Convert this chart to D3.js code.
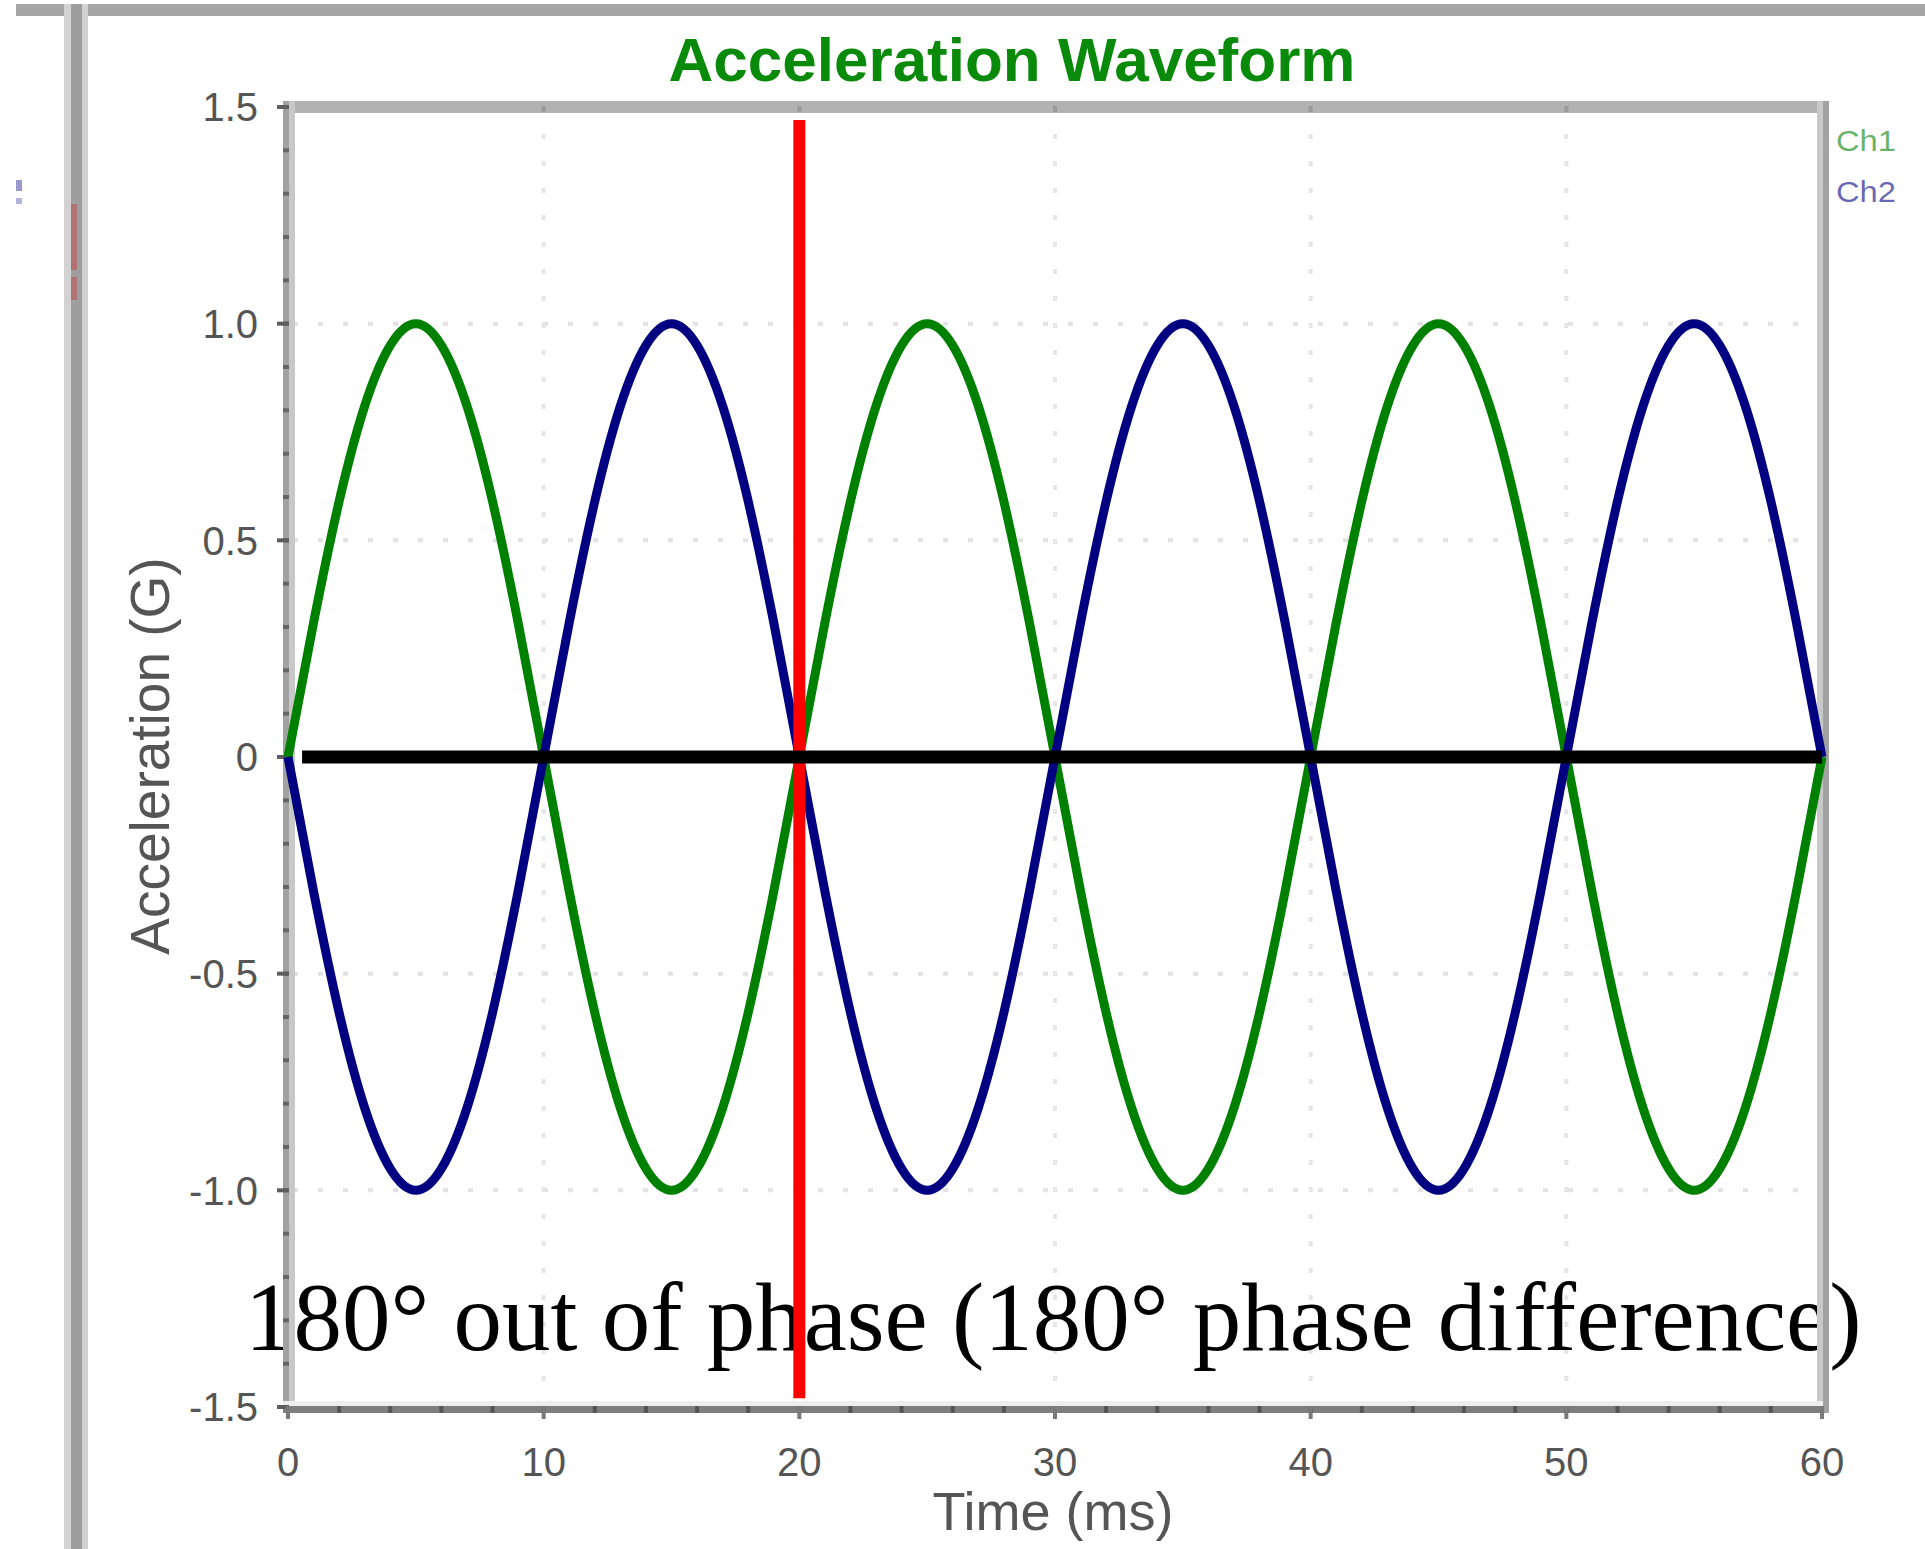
<!DOCTYPE html>
<html>
<head>
<meta charset="utf-8">
<script src="https://cdn.jsdelivr.net/npm/d3@7"></script>
<style>
  html, body { margin: 0; padding: 0; background: #fff; }
  svg { display: block; }
</style>
</head>
<body>
<svg id="chart" width="1925" height="1549"></svg>
<script>
// ---------- data ----------
const times = d3.range(0, 61, 1); // ms sample positions 0..60
const ch1 = [
  0, 0.31, 0.59, 0.81, 0.95, 1.00, 0.95, 0.81, 0.59, 0.31,
  0, -0.31, -0.59, -0.81, -0.95, -1.00, -0.95, -0.81, -0.59, -0.31,
  0, 0.31, 0.59, 0.81, 0.95, 1.00, 0.95, 0.81, 0.59, 0.31,
  0, -0.31, -0.59, -0.81, -0.95, -1.00, -0.95, -0.81, -0.59, -0.31,
  0, 0.31, 0.59, 0.81, 0.95, 1.00, 0.95, 0.81, 0.59, 0.31,
  0, -0.31, -0.59, -0.81, -0.95, -1.00, -0.95, -0.81, -0.59, -0.31,
  0
];
const ch2 = [
  0, -0.31, -0.59, -0.81, -0.95, -1.00, -0.95, -0.81, -0.59, -0.31,
  0, 0.31, 0.59, 0.81, 0.95, 1.00, 0.95, 0.81, 0.59, 0.31,
  0, -0.31, -0.59, -0.81, -0.95, -1.00, -0.95, -0.81, -0.59, -0.31,
  0, 0.31, 0.59, 0.81, 0.95, 1.00, 0.95, 0.81, 0.59, 0.31,
  0, -0.31, -0.59, -0.81, -0.95, -1.00, -0.95, -0.81, -0.59, -0.31,
  0, 0.31, 0.59, 0.81, 0.95, 1.00, 0.95, 0.81, 0.59, 0.31,
  0
];
const seriesNames = ["Ch1", "Ch2"];
const xTicks = [0, 10, 20, 30, 40, 50, 60];
const xTickLabels = ["0", "10", "20", "30", "40", "50", "60"];
const yTicks = [1.5, 1.0, 0.5, 0, -0.5, -1.0, -1.5];
const yTickLabels = ["1.5", "1.0", "0.5", "0", "-0.5", "-1.0", "-1.5"];
const refTime = 20;          // red marker line (ms)
const refRange = [1.47, -1.48];
const zeroLineRange = [0.55, 60];
const titleText = "Acceleration Waveform";
const xTitle = "Time (ms)";
const yTitle = "Acceleration (G)";
const noteText = "180° out of phase (180° phase difference)";

// ---------- layout ----------
const svg = d3.select("#chart");
const x = d3.scaleLinear().domain([0, 60]).range([288, 1822]);
const y = d3.scaleLinear().domain([-1.5, 1.5]).range([1407, 107]);
const colors = { Ch1: "#008000", Ch2: "#000080" };

// window chrome (outer frame)
svg.append("rect").attr("x", 16).attr("y", 4).attr("width", 1909).attr("height", 12).attr("fill", "#a6a6a6");
svg.append("rect").attr("x", 64).attr("y", 4).attr("width", 24).attr("height", 1545).attr("fill", "#d2d2d2");
svg.append("rect").attr("x", 71).attr("y", 4).attr("width", 11).attr("height", 1545).attr("fill", "#9e9e9e");
svg.append("rect").attr("x", 71).attr("y", 204).attr("width", 6).attr("height", 66).attr("fill", "#b07272");
svg.append("rect").attr("x", 71).attr("y", 277).attr("width", 6).attr("height", 23).attr("fill", "#b07272");
svg.append("rect").attr("x", 16).attr("y", 180).attr("width", 6).attr("height", 11).attr("fill", "#9a9acc");
svg.append("rect").attr("x", 16).attr("y", 198).attr("width", 6).attr("height", 6).attr("fill", "#b4b4dd");

// grid (dotted)
const grid = svg.append("g");
grid.selectAll("line.gy").data(yTicks.filter(v => Math.abs(v) !== 1.5 && v !== 0)).join("line")
  .attr("x1", x(0)).attr("x2", x(60)).attr("y1", d => y(d)).attr("y2", d => y(d))
  .attr("stroke", "#e2e2e2").attr("stroke-width", 4).attr("stroke-dasharray", "5,20").attr("stroke-dashoffset", -30);
grid.selectAll("line.gx").data(xTicks.filter(v => v !== 0 && v !== 60)).join("line")
  .attr("x1", d => x(d)).attr("x2", d => x(d)).attr("y1", y(1.5)).attr("y2", y(-1.5))
  .attr("stroke", "#e6e6e6").attr("stroke-width", 4).attr("stroke-dasharray", "5,22");

// annotation text (under frame)
svg.append("text").attr("x", 245).attr("y", 1350)
  .attr("font-family", "'Liberation Serif', 'Times New Roman', serif")
  .attr("font-size", 97).attr("fill", "#000").text(noteText);

// plot frame
const frame = svg.append("g");
frame.append("rect").attr("x", x(0) - 5).attr("y", y(1.5) - 6).attr("width", x(60) - x(0) + 11).attr("height", 12).attr("fill", "#b2b2b2");
frame.append("rect").attr("x", x(0) - 5).attr("y", y(1.5) - 6).attr("width", 6).attr("height", y(-1.5) - y(1.5) + 12).attr("fill", "#a2a2a2");
frame.append("rect").attr("x", x(0) + 1).attr("y", y(1.5) - 6).attr("width", 6).attr("height", y(-1.5) - y(1.5) + 6).attr("fill", "#c8c8c8");
frame.append("rect").attr("x", x(60) - 5).attr("y", y(1.5) - 6).attr("width", 6).attr("height", y(-1.5) - y(1.5) + 12).attr("fill", "#c8c8c8");
frame.append("rect").attr("x", x(60) + 1).attr("y", y(1.5) - 6).attr("width", 6).attr("height", y(-1.5) - y(1.5) + 12).attr("fill", "#a2a2a2");
frame.append("rect").attr("x", x(0) - 5).attr("y", y(-1.5) - 6).attr("width", x(60) - x(0) + 6).attr("height", 5).attr("fill", "#eeeeee");
frame.append("rect").attr("x", x(0) - 5).attr("y", y(-1.5) - 1).attr("width", x(60) - x(0) + 6).attr("height", 7).attr("fill", "#7e7e7e");

// y minor ticks (every 0.1) and major ticks
const yMinor = d3.range(-15, 16).map(v => v / 10);
frame.selectAll("rect.ym").data(yMinor).join("rect")
  .attr("x", x(0) - 5).attr("y", d => y(d) - 2).attr("width", 6).attr("height", 4).attr("fill", "#666");
frame.selectAll("rect.yM").data(yTicks).join("rect")
  .attr("x", x(0) - 11).attr("y", d => y(d) - 2).attr("width", 12).attr("height", 4).attr("fill", "#5e5e5e");
// x minor ticks (every 2 ms) and major ticks
const xMinor = d3.range(0, 61, 2);
frame.selectAll("rect.xm").data(xMinor).join("rect")
  .attr("x", d => x(d) - 2).attr("y", y(-1.5) - 1).attr("width", 4).attr("height", 7).attr("fill", "#555");
frame.selectAll("rect.xM").data(xTicks).join("rect")
  .attr("x", d => x(d) - 2).attr("y", y(-1.5) - 1).attr("width", 4).attr("height", 13).attr("fill", "#7a7a7a");
frame.selectAll("rect.xt").data(xTicks.slice(1, 6)).join("rect")
  .attr("x", d => x(d) - 2).attr("y", y(1.5) - 1).attr("width", 4).attr("height", 6).attr("fill", "#9a9a9a");

// tick labels
svg.append("g").selectAll("text").data(yTicks).join("text")
  .attr("x", 258).attr("y", d => y(d)).attr("dy", "0.36em").attr("text-anchor", "end")
  .attr("font-family", "'Liberation Sans', Arial, sans-serif").attr("font-size", 40).attr("fill", "#555")
  .text((d, i) => yTickLabels[i]);
svg.append("g").selectAll("text").data(xTicks).join("text")
  .attr("x", d => x(d)).attr("y", 1476).attr("text-anchor", "middle")
  .attr("font-family", "'Liberation Sans', Arial, sans-serif").attr("font-size", 40).attr("fill", "#555")
  .text((d, i) => xTickLabels[i]);

// titles
svg.append("text").attr("x", 1012).attr("y", 81).attr("text-anchor", "middle")
  .attr("font-family", "'Liberation Sans', Arial, sans-serif").attr("font-weight", "bold")
  .attr("font-size", 62).attr("fill", "#0a8a0a").text(titleText);
svg.append("text").attr("x", 1053).attr("y", 1530).attr("text-anchor", "middle")
  .attr("font-family", "'Liberation Sans', Arial, sans-serif").attr("font-size", 54).attr("fill", "#555").text(xTitle);
svg.append("text").attr("transform", "translate(169,756) rotate(-90)").attr("text-anchor", "middle")
  .attr("font-family", "'Liberation Sans', Arial, sans-serif").attr("font-size", 55).attr("fill", "#555").text(yTitle);

// legend
const legendData = seriesNames.map((n, i) => ({ name: n, color: colors[n], i }));
svg.append("g").selectAll("text").data(legendData).join("text")
  .attr("x", 1836).attr("y", d => 151 + d.i * 51)
  .attr("font-family", "'Liberation Sans', Arial, sans-serif").attr("font-size", 30)
  .attr("fill", d => d.color).attr("fill-opacity", 0.6).attr("textLength", 60).attr("lengthAdjust", "spacingAndGlyphs")
  .text(d => d.name);

// series
const line = d3.line().x((d, i) => x(times[i])).y(d => y(d)).curve(d3.curveNatural);
const seriesData = [{ name: "Ch1", values: ch1 }, { name: "Ch2", values: ch2 }];
svg.append("g").selectAll("path").data(seriesData).join("path")
  .attr("d", d => line(d.values)).attr("fill", "none")
  .attr("stroke", d => colors[d.name]).attr("stroke-width", 9).attr("stroke-linejoin", "round");

// red reference line
svg.append("line").attr("x1", x(refTime)).attr("x2", x(refTime)).attr("y1", y(refRange[0])).attr("y2", y(refRange[1]))
  .attr("stroke", "#ff0000").attr("stroke-width", 12);

// black zero line
svg.append("line").attr("x1", x(zeroLineRange[0])).attr("x2", x(zeroLineRange[1])).attr("y1", y(0)).attr("y2", y(0))
  .attr("stroke", "#000").attr("stroke-width", 13);
</script>
</body>
</html>
